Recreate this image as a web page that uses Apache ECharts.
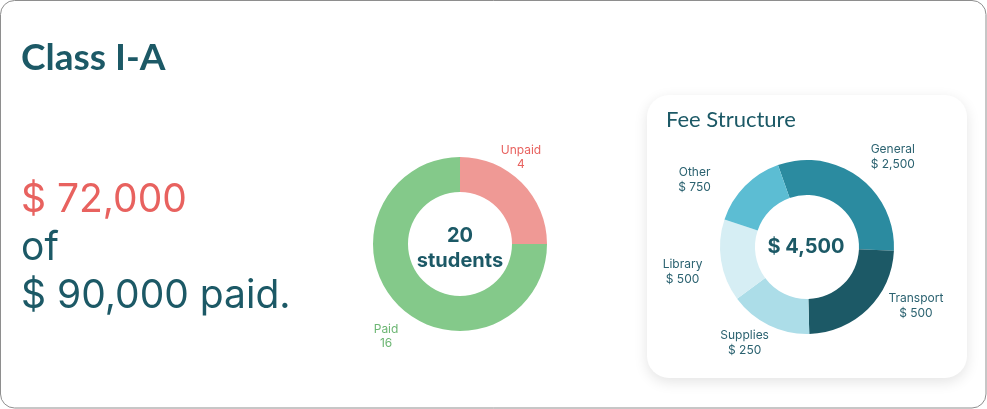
<!DOCTYPE html>
<html>
<head>
<meta charset="utf-8">
<script src="https://cdn.jsdelivr.net/npm/echarts@6/dist/echarts.min.js"></script>
<style>
  html, body { margin: 0; padding: 0; background: #fff; }
  #main { width: 987px; height: 409px; }
</style>
</head>
<body>
<div id="main"></div>
<script>
'use strict';
// class summary
const className = 'Class I-A';
const paidAmount = 72000;
const totalAmount = 90000;

// students donut
const studentNames = ['Unpaid', 'Paid'];
const studentCounts = [4, 16];
const studentArcShare = [90, 270]; // slice size as drawn (degrees)

// fee structure donut
const feeNames = ['General', 'Transport', 'Supplies', 'Library', 'Other'];
const feeAmounts = [2500, 500, 250, 500, 750];
const feeArcShare = [112, 86, 55, 55, 52]; // slice size as drawn (degrees)
const feeTotal = 4500;

const TEAL = '#1c5966';
const RED = '#e8625f';
const money = v => '$ ' + v.toLocaleString('en-US');

// small per-label nudges from the radial anchor point
const studentNudge = [[-14, -12], [1, 17]];
const feeNudge = [[12, 10], [22, -30], [-8, -16], [-2, 5], [-24, 20]];

function nudgedLayout(nudge) {
  return function (p) {
    const n = nudge[p.dataIndex] || [0, 0];
    let ax, ay;
    if (p.labelLinePoints && p.labelLinePoints[1]) {
      ax = p.labelLinePoints[1][0];
      ay = p.labelLinePoints[1][1];
    } else {
      ax = p.labelRect.x + p.labelRect.width / 2;
      ay = p.labelRect.y + p.labelRect.height / 2;
    }
    return { x: ax + n[0], y: ay + n[1], align: 'center', verticalAlign: 'middle' };
  };
}

const chart = echarts.init(document.getElementById('main'));
chart.setOption({
  animation: false,
  graphic: [
    {
      type: 'rect', z: -10,
      shape: { x: 0.5, y: 0.5, width: 985.5, height: 407.5, r: 14 },
      style: { fill: '#fff', stroke: '#8e8e8e', lineWidth: 1 }
    },
    {
      type: 'rect', z: -5,
      shape: { x: 647, y: 95, width: 320, height: 283, r: 22 },
      style: { fill: '#fff', shadowBlur: 14, shadowOffsetY: 4, shadowColor: 'rgba(0,0,0,0.11)' }
    }
  ],
  title: [
    {
      text: className, left: 16, top: 35,
      textStyle: { fontFamily: 'Lato', fontWeight: 'bold', fontSize: 37, color: TEAL }
    },
    {
      text: '{r|' + money(paidAmount) + '}\n{t|of}\n{t|' + money(totalAmount) + ' paid.}',
      left: 16, top: 171,
      textStyle: {
        fontWeight: 'normal',
        rich: {
          r: { fontFamily: 'Inter', fontWeight: 'normal', fontSize: 39, lineHeight: 48, color: RED },
          t: { fontFamily: 'Inter', fontWeight: 'normal', fontSize: 39, lineHeight: 48, color: TEAL }
        }
      }
    },
    {
      text: studentCounts.reduce((a, b) => a + b, 0) + '\nstudents',
      left: 460, top: 223, textAlign: 'center', padding: 0,
      textStyle: { fontFamily: 'Inter', fontWeight: 'bold', fontSize: 20, lineHeight: 25, color: TEAL }
    },
    {
      text: 'Fee Structure', left: 661, top: 104,
      textStyle: { fontFamily: 'Lato', fontWeight: 'normal', fontSize: 22, color: TEAL }
    },
    {
      text: money(feeTotal), left: 806, top: 235, textAlign: 'center', padding: 0,
      textStyle: { fontFamily: 'Inter', fontWeight: 'bold', fontSize: 20, lineHeight: 24, color: TEAL }
    }
  ],
  series: [
    {
      type: 'pie',
      center: [460, 244],
      radius: [52, 87],
      startAngle: 90,
      clockwise: true,
      silent: true,
      label: {
        show: true, position: 'outside',
        fontFamily: 'Inter', fontSize: 12, lineHeight: 14,
        formatter: p => p.name + '\n' + studentCounts[p.dataIndex]
      },
      labelLine: { show: true, length: 19, length2: 0, lineStyle: { opacity: 0 } },
      labelLayout: nudgedLayout(studentNudge),
      data: studentNames.map((n, i) => ({
        name: n,
        value: studentArcShare[i],
        itemStyle: { color: ['#ef9995', '#84c98a'][i] },
        label: { color: [RED, '#6cb673'][i] }
      }))
    },
    {
      type: 'pie',
      center: [807, 247],
      radius: [52, 87],
      startAngle: 109.5,
      clockwise: true,
      silent: true,
      label: {
        show: true, position: 'outside',
        fontFamily: 'Inter', fontSize: 12, lineHeight: 15, color: '#2b6270',
        formatter: p => p.name + '\n' + money(feeAmounts[p.dataIndex])
      },
      labelLine: { show: true, length: 37, length2: 0, lineStyle: { opacity: 0 } },
      labelLayout: nudgedLayout(feeNudge),
      data: feeNames.map((n, i) => ({
        name: n,
        value: feeArcShare[i],
        itemStyle: { color: ['#2b8ba0', '#1c5966', '#acdde8', '#d6eef4', '#5cbdd3'][i] }
      }))
    }
  ]
});
</script>
</body>
</html>
